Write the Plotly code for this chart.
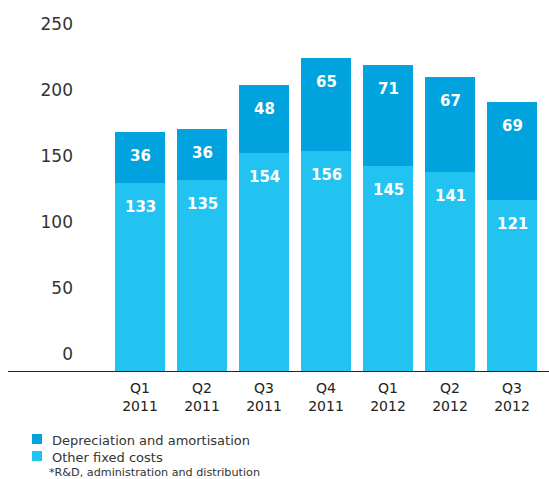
import plotly.graph_objects as go

quarter_names = ["Q1", "Q2", "Q3", "Q4", "Q1", "Q2", "Q3"]
years = ["2011", "2011", "2011", "2011", "2012", "2012", "2012"]
other_fixed = [133, 135, 154, 156, 145, 141, 121]
depreciation = [36, 36, 48, 65, 71, 67, 69]
tick_labels = [0, 50, 100, 150, 200, 250]
legend_names = ["Depreciation and amortisation", "Other fixed costs"]
footnote = "*R&D, administration and distribution"

categories = [f"{q}<br>{y}" for q, y in zip(quarter_names, years)]

C_DARK = "#00A3DE"
C_LIGHT = "#22C3F1"
FONT = "DejaVu Sans"

# plot area geometry (pixels)
L, R, T, B = 109, 6, 10, 107
W, H = 549, 479
PW, PH = W - L - R, H - T - B


def px(xp):
    return (xp - L) / PW


def py(yp):
    return (H - B - yp) / PH


fig = go.Figure()
fig.add_trace(go.Bar(x=categories, y=other_fixed, name=legend_names[1],
                     marker=dict(color=C_LIGHT, line=dict(width=0))))
fig.add_trace(go.Bar(x=categories, y=depreciation, name=legend_names[0],
                     marker=dict(color=C_DARK, line=dict(width=0))))

# value labels near top of each segment
for c, o, d in zip(categories, other_fixed, depreciation):
    fig.add_annotation(x=c, y=o, text=f"<b>{o}</b>", showarrow=False, yanchor="middle",
                       yshift=-24, font=dict(family=FONT, size=15, color="white"))
    fig.add_annotation(x=c, y=o + d, text=f"<b>{d}</b>", showarrow=False, yanchor="middle",
                       yshift=-24, font=dict(family=FONT, size=15, color="white"))

# baseline
fig.add_shape(type="line", xref="paper", yref="y", x0=px(8), x1=px(552), y0=0, y1=0,
              line=dict(color="#222222", width=2))

# manual legend
for name, col, yc in zip(legend_names, [C_DARK, C_LIGHT], [439, 456]):
    fig.add_shape(type="rect", xref="paper", yref="paper", x0=px(32), x1=px(42),
                  y0=py(yc + 5), y1=py(yc - 5), fillcolor=col, line=dict(width=0))
    fig.add_annotation(xref="paper", yref="paper", x=px(50), y=py(yc + 1), xanchor="left",
                       yanchor="middle", text=name, showarrow=False,
                       font=dict(family=FONT, size=13, color="#333333"))

fig.add_annotation(xref="paper", yref="paper", x=px(47), y=py(472), xanchor="left", yanchor="middle",
                   text=footnote, showarrow=False,
                   font=dict(family=FONT, size=11.2, color="#333333"))

fig.update_layout(
    width=W, height=H,
    margin=dict(l=L, r=R, t=T, b=B, autoexpand=False),
    barmode="stack", bargap=0.19,
    plot_bgcolor="white", paper_bgcolor="white",
    font=dict(family=FONT, color="#333333"),
    showlegend=False,
    xaxis=dict(showgrid=False, showline=False, ticks="", range=[-0.5, 6.5], automargin=False,
               ticklabelstandoff=6,
               tickfont=dict(family=FONT, size=14, color="#222222")),
    yaxis=dict(range=[0, 255], showgrid=False, zeroline=False, showline=False, ticks="",
               automargin=False,
               tickvals=[12.7 + v * 0.9296 for v in tick_labels],
               ticktext=[str(v) for v in tick_labels],
               ticklabelstandoff=35,
               tickfont=dict(family=FONT, size=17, color="#333333")),
)

fig.write_html("out.html", config={"displayModeBar": False},
               post_script="document.body.style.margin='0';")
